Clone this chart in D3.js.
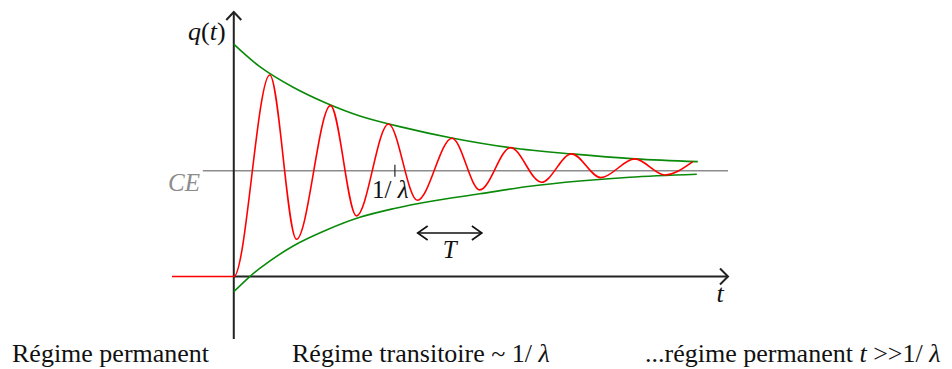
<!DOCTYPE html>
<html>
<head>
<meta charset="utf-8">
<script src="https://cdn.jsdelivr.net/npm/d3@7"></script>
</head>
<body style="margin:0">
<svg id="chart" width="952" height="369" style="font-family: 'Liberation Serif'"></svg>
<script>
// Data (t in arbitrary units, q with CE = 1)
const ceLevel = 1;

// red response q(t): start, rise, then alternating peaks / troughs
const responseT = [-1.25, 0, 0.728, 1.269, 1.957, 2.483, 3.130, 3.713, 4.417, 4.978, 5.599, 6.226, 6.834, 7.426, 8.114, 8.721, 9.288];
const responseQ = [0, 0, 1.905, 0.353, 1.615, 0.573, 1.442, 0.721, 1.307, 0.819, 1.218, 0.891, 1.159, 0.935, 1.112, 0.960, 1.086];

// green envelopes
const upperT = [0, 0.526, 1.201, 1.876, 2.550, 3.359, 4.411, 5.599, 6.834, 8.114, 9.389];
const upperQ = [2.196, 1.984, 1.789, 1.638, 1.518, 1.417, 1.310, 1.218, 1.159, 1.112, 1.086];
const lowerT = [0, 0.324, 0.526, 1.201, 1.876, 2.550, 3.224, 3.966, 4.978, 5.989, 7.001, 8.013, 9.369];
const lowerQ = [-0.143, 0, 0.078, 0.289, 0.440, 0.560, 0.641, 0.710, 0.782, 0.853, 0.903, 0.939, 0.967];

// markers on the time axis
const invLambda = 3.26;      // position of the 1/λ tick
const periodStart = 3.72;    // T arrow
const periodEnd = 5.02;

const bottomLabels = [
  { x: 12,  parts: [["Régime permanent", "normal"]] },
  { x: 292, parts: [["Régime transitoire ~ 1/ ", "normal"], ["λ", "italic"]] },
  { x: 645, parts: [["...régime permanent ", "normal"], ["t", "italic"], [" >>1/ ", "normal"], ["λ", "italic"]] }
];

const fontSerif = '"Liberation Serif"';
const svg = d3.select("#chart");

const xScale = d3.scaleLinear().domain([-1.25, 10]).range([172, 728]);
const yScale = d3.scaleLinear().domain([-0.59, 2.5]).range([339, 12]);

// text first
const addText = (x, y, size, color) => svg.append("text")
  .attr("x", x).attr("y", y)
  .attr("font-size", size).attr("fill", color)
  .style("font-family", fontSerif);

// bottom captions
bottomLabels.forEach(d => {
  const t = addText(d.x, 362, 26, "#111");
  d.parts.forEach(p => t.append("tspan").style("font-style", p[1]).text(p[0]));
});

// axis labels
const qLabel = addText(188, 40, 26, "#111");
qLabel.append("tspan").style("font-style", "italic").text("q");
qLabel.append("tspan").text("(");
qLabel.append("tspan").style("font-style", "italic").text("t");
qLabel.append("tspan").text(")");

addText(720, 302, 26, "#111")
  .attr("text-anchor", "middle").style("font-style", "italic").text("t");

addText(168, 191, 25, "#8c8c8c")
  .style("font-style", "italic").text("CE");

// 1/λ label
const lamLabel = addText(372, 198, 25, "#111");
lamLabel.append("tspan").text("1/ ");
lamLabel.append("tspan").style("font-style", "italic").text("λ");

// T label
const ta = xScale(periodStart), tb = xScale(periodEnd);
addText((ta + tb) / 2, 258, 25, "#111")
  .attr("text-anchor", "middle").style("font-style", "italic").text("T");

const zip = (ts, qs) => ts.map((t, i) => [t, qs[i]]);

const responseLine = d3.line()
  .x(d => xScale(d[0]))
  .y(d => yScale(d[1]))
  .curve(d3.curveMonotoneX);

const envelopeLine = d3.line()
  .x(d => xScale(d[0]))
  .y(d => yScale(d[1]))
  .curve(d3.curveCatmullRom.alpha(0.5));

// CE level (grey)
svg.append("line")
  .attr("x1", xScale(-0.627)).attr("x2", xScale(10))
  .attr("y1", yScale(ceLevel)).attr("y2", yScale(ceLevel))
  .attr("stroke", "#8c8c8c").attr("stroke-width", 1.6);

// axes
const axisColor = "#222";
const x0 = xScale(0), y0 = yScale(0);
svg.append("line")
  .attr("x1", x0).attr("x2", x0)
  .attr("y1", yScale(-0.59)).attr("y2", yScale(2.5))
  .attr("stroke", axisColor).attr("stroke-width", 2);
svg.append("line")
  .attr("x1", x0).attr("x2", xScale(10))
  .attr("y1", y0).attr("y2", y0)
  .attr("stroke", axisColor).attr("stroke-width", 2);

// open arrow heads
svg.append("path")
  .attr("d", `M${x0 - 7.5},${yScale(2.5) + 8}L${x0},${yScale(2.5)}L${x0 + 7.5},${yScale(2.5) + 8}`)
  .attr("fill", "none").attr("stroke", axisColor).attr("stroke-width", 2);
svg.append("path")
  .attr("d", `M${xScale(10) - 8},${y0 - 8}L${xScale(10)},${y0}L${xScale(10) - 8},${y0 + 8}`)
  .attr("fill", "none").attr("stroke", axisColor).attr("stroke-width", 2);

// envelopes (green)
svg.append("path")
  .datum(zip(upperT, upperQ))
  .attr("d", envelopeLine)
  .attr("fill", "none").attr("stroke", "#0a8a0a").attr("stroke-width", 1.6);
svg.append("path")
  .datum(zip(lowerT, lowerQ))
  .attr("d", envelopeLine)
  .attr("fill", "none").attr("stroke", "#0a8a0a").attr("stroke-width", 1.6);

// response (red)
svg.append("path")
  .datum(zip(responseT, responseQ))
  .attr("d", responseLine)
  .attr("fill", "none").attr("stroke", "#ff0000").attr("stroke-width", 1.6);

// 1/λ tick
svg.append("line")
  .attr("x1", xScale(invLambda)).attr("x2", xScale(invLambda))
  .attr("y1", yScale(ceLevel) - 6).attr("y2", yScale(ceLevel) + 6)
  .attr("stroke", axisColor).attr("stroke-width", 1.2);

// period T double arrow
const ty = 233;
svg.append("line")
  .attr("x1", ta).attr("x2", tb).attr("y1", ty).attr("y2", ty)
  .attr("stroke", "#111").attr("stroke-width", 1.6);
svg.append("path")
  .attr("d", `M${ta + 10},${ty - 7}L${ta},${ty}L${ta + 10},${ty + 7}M${tb - 10},${ty - 7}L${tb},${ty}L${tb - 10},${ty + 7}`)
  .attr("fill", "none").attr("stroke", "#111").attr("stroke-width", 1.6);
</script>
</body>
</html>
